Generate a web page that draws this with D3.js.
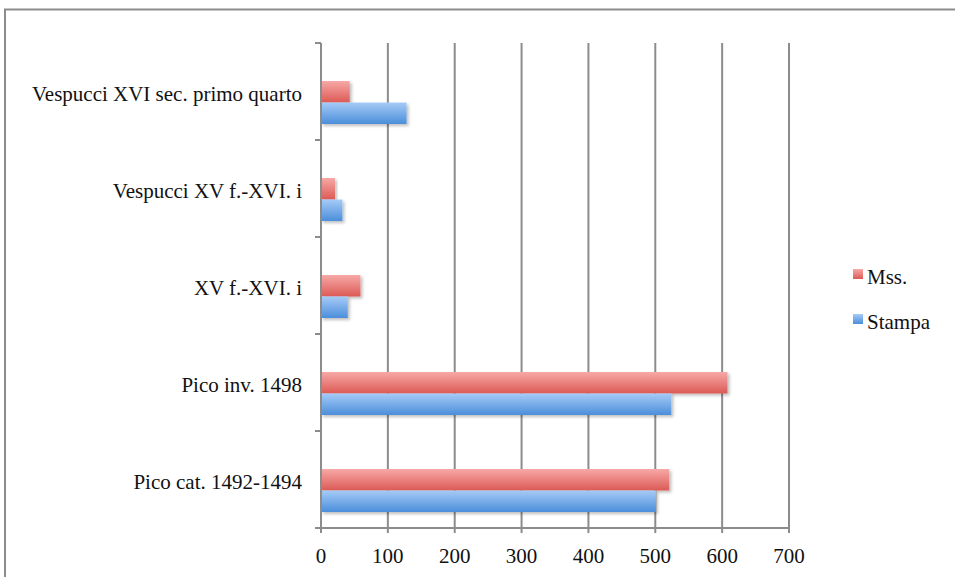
<!DOCTYPE html>
<html><head><meta charset="utf-8">
<script src="https://cdn.jsdelivr.net/npm/d3@7"></script>
<style>body{margin:0;background:#fff}svg{display:block}</style>
</head><body><svg id="c" width="955" height="577"></svg>
<script>
const categories = ["Vespucci XVI sec. primo quarto","Vespucci XV f.-XVI. i","XV f.-XVI. i","Pico inv. 1498","Pico cat. 1492-1494"];
const mss = [43, 21, 59, 608, 521];
const stampa = [128, 32, 40, 524, 501];
const xTicks = [0,100,200,300,400,500,600,700];
const seriesNames = ["Mss.","Stampa"];

const svg = d3.select("#c");
const font = "'Liberation Serif', 'Times New Roman', serif";
const defs = svg.append("defs");
function grad(id, c1, c2){
  const g = defs.append("linearGradient").attr("id",id).attr("x1",0).attr("y1",0).attr("x2",0).attr("y2",1);
  g.append("stop").attr("offset","0%").attr("stop-color",c1);
  g.append("stop").attr("offset","100%").attr("stop-color",c2);
}
grad("gr","#f7a9a7","#dc5a55");
grad("gb","#a6cbf7","#4b8edb");
const f = defs.append("filter").attr("id","sh").attr("x","-10%").attr("y","-20%").attr("width","130%").attr("height","160%");
f.append("feDropShadow").attr("dx",2).attr("dy",2).attr("stdDeviation",1.5).attr("flood-color","#000").attr("flood-opacity",0.25);

// frame
svg.append("path").attr("d","M5,577 V9.5 H955").attr("fill","none").attr("stroke","#8c8c8c").attr("stroke-width",2);

const x = d3.scaleLinear().domain([0,700]).range([321,789]);
const y = d3.scaleBand().domain(categories).range([43,528]);

// gridlines
svg.append("g").selectAll("line").data(xTicks.slice(1)).join("line")
  .attr("x1",d=>x(d)).attr("x2",d=>x(d)).attr("y1",43).attr("y2",533)
  .attr("stroke","#8c8c8c").attr("stroke-width",2);

// bars
const bw = 21.5;
const g = svg.append("g");
categories.forEach((c,i)=>{
  const y0 = y(c);
  g.append("rect").attr("x",x(0)).attr("y",y0+38).attr("width",x(mss[i])-x(0)).attr("height",bw)
    .attr("fill","url(#gr)").attr("filter","url(#sh)");
  g.append("rect").attr("x",x(0)).attr("y",y0+38+bw).attr("width",x(stampa[i])-x(0)).attr("height",bw)
    .attr("fill","url(#gb)").attr("filter","url(#sh)");
});

// y axis line and ticks
svg.append("line").attr("x1",x(0)).attr("x2",x(0)).attr("y1",43).attr("y2",533).attr("stroke","#8c8c8c").attr("stroke-width",2);
const yTickPos = d3.range(categories.length+1).map(i=>43+i*y.step());
svg.append("g").selectAll("line").data(yTickPos).join("line")
  .attr("x1",315).attr("x2",x(0)).attr("y1",d=>d).attr("y2",d=>d)
  .attr("stroke","#8c8c8c").attr("stroke-width",2);
// x axis line
svg.append("line").attr("x1",315).attr("x2",x(700)+1).attr("y1",528).attr("y2",528).attr("stroke","#8c8c8c").attr("stroke-width",2);

// labels
svg.append("g").selectAll("text").data(categories).join("text")
  .attr("x",302).attr("y",d=>y(d)+57.5).attr("text-anchor","end")
  .attr("font-family",font).attr("font-size",21).attr("fill","#111").text(d=>d);
svg.append("g").selectAll("text").data(xTicks).join("text")
  .attr("x",d=>x(d)).attr("y",563).attr("text-anchor","middle")
  .attr("font-family",font).attr("font-size",21).attr("fill","#111").text(d=>d);

// legend
const lg = svg.append("g");
const lcol = ["url(#gr)","url(#gb)"];
seriesNames.forEach((n,i)=>{
  const ly = 284 + i*45;
  lg.append("rect").attr("x",853).attr("y",ly-15).attr("width",10).attr("height",10).attr("fill",lcol[i]);
  lg.append("text").attr("x",867).attr("y",ly)
    .attr("font-family",font).attr("font-size",21).attr("fill","#111").text(n);
});
</script></body></html>
